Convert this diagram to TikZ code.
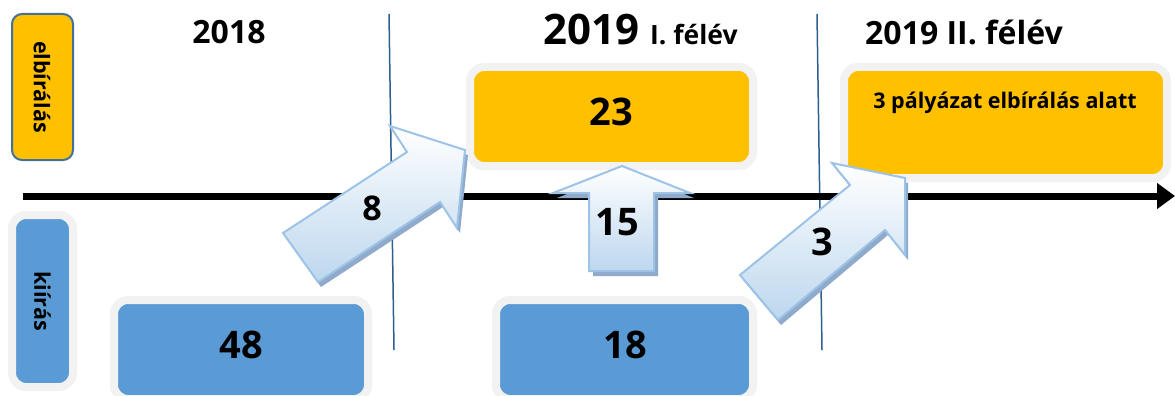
\documentclass[tikz,border=0pt]{standalone}
\usepackage{fontspec}
\setmainfont{Open Sans}
\usetikzlibrary{arrows.meta}
\definecolor{orng}{HTML}{FFC000}
\definecolor{blu}{HTML}{5B9BD5}
\definecolor{halo}{HTML}{F2F2F2}
\definecolor{edgeblue}{HTML}{41719C}
\definecolor{vline}{HTML}{2F5F8F}
\definecolor{arrline}{HTML}{9DC3E6}
\definecolor{arrfill}{HTML}{BDD7EE}
\definecolor{arrshadow}{HTML}{8FAACB}
\newcommand{\fs}[1]{\fontsize{#1}{#1}\selectfont\bfseries}
\begin{document}
\begin{tikzpicture}[x=1pt,y=-1pt,
  box/.style={rectangle, draw=halo, line width=8pt, rounded corners=14pt, inner sep=0pt, outer sep=0pt, anchor=north west},
  sidebox/.style={rectangle, rounded corners=10pt, inner sep=0pt, outer sep=0pt, anchor=north west},
  lbl/.style={inner sep=0pt, text=black},
  blockarrow/.style={draw=arrline, line width=2pt, line join=miter, top color=white, bottom color=arrfill},
  arrowshadow/.style={fill=arrshadow, draw=none},
  divider/.style={draw=vline, line width=1.5pt},
  timeline/.style={line width=7pt, -{Triangle[length=18pt,width=25pt]}}
]
\useasboundingbox (0,0) rectangle (1175,396);
\fill[white] (0,0) rectangle (1175,396);

% side boxes
\node[sidebox, draw=edgeblue, line width=2pt, fill=orng, minimum width=61pt, minimum height=146pt] (elbox) at (12,14) {};
\node[lbl, rotate=-90, font=\fs{21.5}] (eltxt) at (42,87) {elbírálás};
\node[box, fill=blu, minimum width=61pt, minimum height=172pt] (kibox) at (12,215) {};
\node[lbl, rotate=-90, font=\fs{21.5}] (kitxt) at (42.5,301) {kiírás};

% headings
\node[lbl, anchor=base, font=\fs{32}] (h2018) at (229,44) {2018};
\node[lbl, anchor=base west, font=\fs{42}] (h2019) at (543,45) {2019};
\node[lbl, anchor=base west, font=\fs{26.5}] (h2019a) at (650,45) {I. félév};
\node[lbl, anchor=base west, font=\fs{32}] (h2019b) at (865,45) {2019 II. félév};

% dividers
\coordinate (d1t) at (389,14); \coordinate (d1b) at (394,350);
\coordinate (d2t) at (817,14); \coordinate (d2b) at (822,350);
\draw[divider] (d1t) -- (d1b);
\draw[divider] (d2t) -- (d2b);

% result boxes
\node[box, fill=orng, minimum width=283pt, minimum height=99pt] (b23) at (470,67) {};
\node[lbl, font=\fs{38}] (t23) at (611,112) {23};
\node[box, fill=orng, minimum width=323pt, minimum height=111pt] (b3p) at (844,67) {};
\node[lbl, anchor=base, font=\fs{21.5}] (t3p) at (1005,108) {3 pályázat elbírálás alatt};
\node[box, fill=blu, minimum width=254pt, minimum height=99pt] (b48) at (114,300) {};
\node[lbl, font=\fs{38}] (t48) at (241,345) {48};
\node[box, fill=blu, minimum width=257pt, minimum height=99pt] (b18) at (496,300) {};
\node[lbl, font=\fs{38}] (t18) at (625,345) {18};

% timeline
\coordinate (tl0) at (23,196);
\coordinate (tl1) at (1175,196);
\draw[timeline] (tl0) -- (tl1);

% block arrow 8
\fill[arrowshadow, shift={(3,5)}] (283,233) -- (407,152) -- (390,126) -- (465,150) -- (457,228) -- (440,202) -- (318,282) -- cycle;
\path[blockarrow] (283,233) -- (407,152) -- (390,126) -- (465,150) -- (457,228) -- (440,202) -- (318,282) -- cycle;
\node[lbl, font=\fs{34}] (t8) at (372,208) {8};

% block arrow 15
\fill[arrowshadow, shift={(4,5)}] (622,166) -- (690,193) -- (654,193) -- (654,271) -- (589,271) -- (589,193) -- (553,193) -- cycle;
\path[blockarrow] (622,166) -- (690,193) -- (654,193) -- (654,271) -- (589,271) -- (589,193) -- (553,193) -- cycle;
\node[lbl, font=\fs{38}] (t15) at (617,222) {15};

% block arrow 3
\fill[arrowshadow, shift={(3,5)}] (740,275) -- (850,185) -- (832,163) -- (905,178) -- (905,255) -- (885,230) -- (778,320) -- cycle;
\path[blockarrow] (740,275) -- (850,185) -- (832,163) -- (905,178) -- (905,255) -- (885,230) -- (778,320) -- cycle;
\node[lbl, font=\fs{38}] (t3) at (822,242) {3};
\end{tikzpicture}
\end{document}
